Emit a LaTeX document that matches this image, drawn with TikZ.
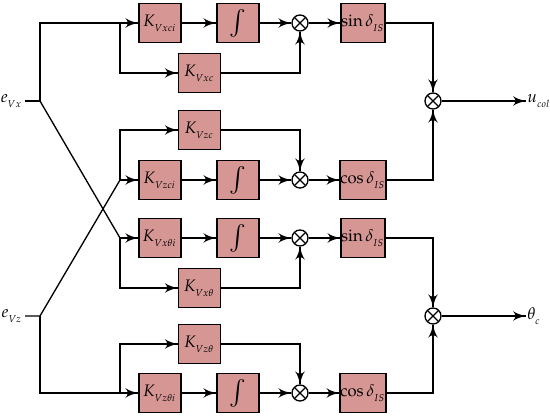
\documentclass[tikz,border=0pt]{standalone}
\usepackage{amsmath}
\usepackage{mathpazo}
\usepackage{tikz}
\usetikzlibrary{arrows}
\usetikzlibrary{decorations.markings}
\usetikzlibrary{positioning}
\definecolor{mrose}{rgb}{0.84, 0.59, 0.58}
\tikzset{->/.style = {decoration={markings,
                                  mark=at position 1 with {\arrow[scale=1.5]{latex'}}},
                      postaction={decorate}},
         blk/.style = {draw, thick, fill = mrose, minimum width = 25.2pt,
                       minimum height = 23.4pt, inner sep = 0pt},
         mult/.style = {draw, thick, circle, minimum size = 9.6pt, inner sep = 0pt,
                        path picture = {\draw [thick]
                          (path picture bounding box.north west) -- (path picture bounding box.south east)
                          (path picture bounding box.north east) -- (path picture bounding box.south west);}}}

\begin{document}
\begin{tikzpicture}[x = 6pt, y = 6pt, thick]
      \useasboundingbox (0, 0) rectangle (55, 41.8);
      % inputs and branch points
      \node [anchor = east, inner sep = 1pt] (ex) at (2.5, 31.7) {$e_{_{Vx}}$};
      \node [anchor = east, inner sep = 1pt] (ez) at (2.5, 10.2) {$e_{_{Vz}}$};
      \coordinate (jx) at (4, 31.7);
      \coordinate (jz) at (4, 10.2);
      \coordinate (b1) at (12, 39.5);
      \coordinate (b4) at (12, 23.8);
      \coordinate (b5) at (12, 18);
      \coordinate (b8) at (12, 2.5);
      % blocks
      \node [blk] (kvxci) at (16, 39.5) {$K_{_{Vxci}}$};
      \node [blk] (ix)    at (23.8, 39.5) {\Large$\int$};
      \node [mult] (mx)   at (30, 39.5) {};
      \node [blk] (sinx)  at (36.3, 39.5) {$\sin\delta_{_{IS}}$};
      \node [blk] (kvxc)  at (19.95, 34.5) {$K_{_{Vxc}}$};
      \node [blk] (kvzc)  at (19.95, 28.8) {$K_{_{Vzc}}$};
      \node [blk] (kvzci) at (16, 23.8) {$K_{_{Vzci}}$};
      \node [blk] (iz)    at (23.8, 23.8) {\Large$\int$};
      \node [mult] (mz)   at (30, 23.8) {};
      \node [blk] (cosz)  at (36.3, 23.8) {$\cos\delta_{_{IS}}$};
      \node [blk] (kvxti) at (16, 18) {$K_{_{Vx\theta i}}$};
      \node [blk] (ixt)   at (23.8, 18) {\Large$\int$};
      \node [mult] (mxt)  at (30, 18) {};
      \node [blk] (sinxt) at (36.3, 18) {$\sin\delta_{_{IS}}$};
      \node [blk] (kvxt)  at (19.95, 13) {$K_{_{Vx\theta}}$};
      \node [blk] (kvzt)  at (19.95, 7.4) {$K_{_{Vz\theta}}$};
      \node [blk] (kvzti) at (16, 2.5) {$K_{_{Vz\theta i}}$};
      \node [blk] (izt)   at (23.8, 2.5) {\Large$\int$};
      \node [mult] (mzt)  at (30, 2.5) {};
      \node [blk] (coszt) at (36.3, 2.5) {$\cos\delta_{_{IS}}$};
      \node [mult] (mu)   at (43.3, 31.7) {};
      \node [mult] (mth)  at (43.3, 10.2) {};
      \coordinate (uo) at (52.6, 31.7);
      \coordinate (tho) at (52.6, 10.2);
      % input wiring
      \draw [->] (ex.east) -- (jx) |- (kvxci);
      \draw [->] (b1) |- (kvxc);
      \draw (jx) -- (b5);
      \draw [->] (b5) -- (kvxti);
      \draw [->] (b5) |- (kvxt);
      \draw (ez.east) -- (jz) -- (b4);
      \draw [->] (b4) -- (kvzci);
      \draw [->] (b4) |- (kvzc);
      \draw [->] (jz) |- (kvzti);
      \draw [->] (b8) |- (kvzt);
      % chains
      \draw [->] (kvxci) -- (ix);
      \draw [->] (ix) -- (mx);
      \draw [->] (mx) -- (sinx);
      \draw [->] (kvxc) -| (mx);
      \draw [->] (kvzci) -- (iz);
      \draw [->] (iz) -- (mz);
      \draw [->] (mz) -- (cosz);
      \draw [->] (kvzc) -| (mz);
      \draw [->] (kvxti) -- (ixt);
      \draw [->] (ixt) -- (mxt);
      \draw [->] (mxt) -- (sinxt);
      \draw [->] (kvxt) -| (mxt);
      \draw [->] (kvzti) -- (izt);
      \draw [->] (izt) -- (mzt);
      \draw [->] (mzt) -- (coszt);
      \draw [->] (kvzt) -| (mzt);
      % outputs
      \draw [->] (sinx) -| (mu);
      \draw [->] (cosz) -| (mu);
      \draw [->] (mu) -- (uo);
      \node [right, inner sep = 0.5pt] (ul) at (uo) {$u_{_{col}}$};
      \draw [->] (sinxt) -| (mth);
      \draw [->] (coszt) -| (mth);
      \draw [->] (mth) -- (tho);
      \node [right, inner sep = 0.5pt] (thl) at (tho) {$\theta_{_c}$};
    \end{tikzpicture}
\end{document}
